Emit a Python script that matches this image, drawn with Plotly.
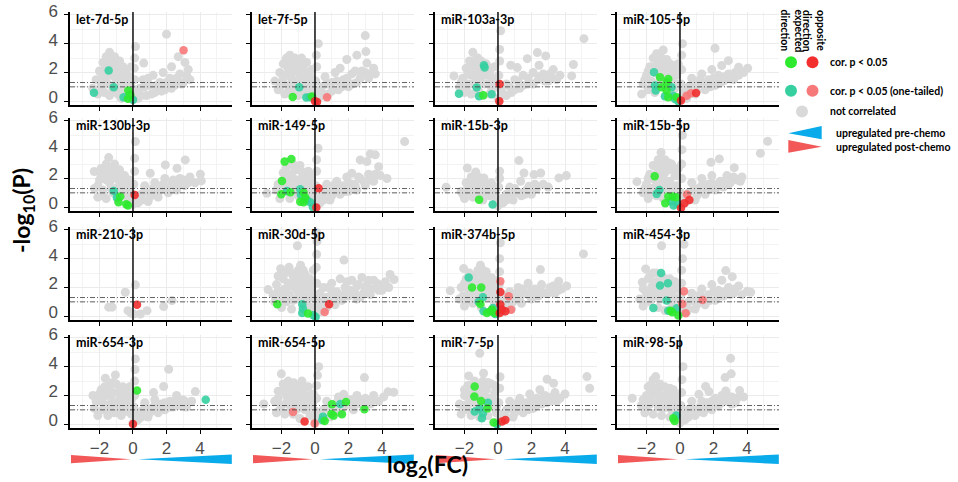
import plotly.graph_objects as go

W, H = 958, 482

PANELS = ["let-7d-5p", "let-7f-5p", "miR-103a-3p", "miR-105-5p",
          "miR-130b-3p", "miR-149-5p", "miR-15b-3p", "miR-15b-5p",
          "miR-210-3p", "miR-30d-5p", "miR-374b-5p", "miR-454-3p",
          "miR-654-3p", "miR-654-5p", "miR-7-5p", "miR-98-5p"]

X_TICKS = [-2, 0, 2, 4]
X_MINOR = [-3, -1, 1, 3, 5]
Y_TICKS = [0, 2, 4, 6]
Y_MINOR = [1, 3, 5]
P_05 = 1.30103   # -log10(0.05)
P_10 = 1.0       # -log10(0.1)

# ---------------- not correlated (grey) points, per panel -----------------
grey_let7d_5p = [(-2.4,0.9),(-2.2,1.5),(-2.1,0.5),(-2.0,2.1),(-1.9,1.1),(-1.8,2.7),(-1.7,1.7),(-1.7,0.6),(-1.6,3.1),(-1.5,2.3),(-1.5,1.2),(-1.4,3.4),(-1.3,2.8),(-1.3,1.8),(-1.2,0.8),(-1.1,3.1),(-1.0,2.3),(-1.0,1.4),(-0.9,0.5),(-0.8,2.8),(-0.8,1.9),(-0.7,1.1),(-0.7,0.2),(-0.6,2.4),(-0.5,1.6),(-0.4,0.5),(-0.4,2.1),(-0.3,1.1),(-0.2,1.7),(-0.2,0.2),(-0.1,2.4),(0.0,0.1),(0.05,0.8),(0.1,1.5),(0.08,2.3),(0.1,3.0),(0.15,3.8),(0.3,0.2),(0.4,0.9),(0.6,1.5),(0.64,2.65),(0.8,0.4),(1.0,1.1),(1.2,1.8),(1.3,0.6),(1.6,1.3),(1.8,2.0),(1.9,0.8),(2.2,1.6),(2.3,2.4),(2.5,1.1),(2.8,1.9),(3.0,1.3),(3.1,2.7),(3.4,1.5),(3.3,2.2),(2.0,4.66),(2.7,3.1),
    (-2.0,1.5),(-1.9,0.7),(-1.7,2.2),(-1.6,1.3),(-1.5,2.8),(-1.4,0.4),(-1.2,2.5),(-1.1,1.7),(-1.0,0.9),(-0.9,2.6),(-0.7,1.6),(-0.6,0.6),(-0.5,2.0),(-0.3,1.5),(-0.1,1.0),(0.2,0.5),(0.5,0.4),(0.7,1.0),(0.9,1.6),(1.1,0.5),(1.4,1.1),(1.7,0.7),(2.0,1.3),(2.3,0.9),(2.6,1.6),(2.9,1.2),(3.2,1.8)]
grey_let7f_5p = [(-2.4,1.4),(-2.2,0.8),(-2.1,2.0),(-2.0,1.3),(-1.9,2.6),(-1.8,0.5),(-1.8,1.8),(-1.7,3.0),(-1.6,2.3),(-1.6,1.1),(-1.5,3.2),(-1.4,2.7),(-1.4,1.6),(-1.3,0.7),(-1.2,3.0),(-1.2,2.1),(-1.1,1.3),(-1.0,2.6),(-1.0,0.4),(-0.9,1.8),(-0.8,3.0),(-0.8,1.0),(-0.7,2.3),(-0.6,1.5),(-0.5,0.6),(-0.5,2.7),(-0.4,1.9),(-0.3,1.2),(-0.2,2.2),(-0.1,0.7),(0.0,0.2),(0.05,1.4),(0.1,2.4),(0.08,3.2),(0.2,4.0),(0.3,0.3),(0.4,1.0),(0.6,1.7),(0.8,0.5),(1.0,1.3),(1.2,2.0),(1.4,0.8),(1.5,2.3),(1.7,1.5),(1.9,2.9),(2.0,1.0),(2.2,1.9),(2.5,3.2),(2.5,1.3),(2.8,2.1),(3.0,4.56),(3.04,3.45),(3.1,2.65),(3.2,1.6),(3.5,2.3),(3.6,1.9),
    (-2.1,1.0),(-1.9,1.6),(-1.7,2.5),(-1.6,0.7),(-1.5,1.9),(-1.3,2.4),(-1.2,1.0),(-1.1,2.8),(-0.9,0.7),(-0.9,2.2),(-0.7,1.3),(-0.6,2.7),(-0.4,0.8),(-0.3,1.7),(-0.1,1.4),(0.2,0.7),(0.5,0.5),(0.7,1.2),(1.0,0.7),(1.3,1.4),(1.6,1.0),(1.9,1.6),(2.2,1.2),(2.4,2.1),(2.7,1.6),(3.0,2.0),(3.3,1.9)]
grey_miR103a_3p = [(-2.63,1.76),(-2.3,1.0),(-2.1,1.6),(-2.0,0.6),(-1.9,2.3),(-1.8,1.2),(-1.7,2.8),(-1.6,1.8),(-1.6,0.5),(-1.5,3.4),(-1.4,2.5),(-1.3,1.4),(-1.2,3.0),(-1.2,0.8),(-1.1,2.1),(-1.0,2.8),(-1.0,1.4),(-0.9,0.4),(-0.8,1.9),(-0.7,2.6),(-0.6,1.2),(-0.5,2.0),(-0.4,0.7),(-0.3,1.6),(-0.2,2.4),(-0.1,1.0),(0.0,0.2),(0.05,1.8),(0.1,2.8),(0.1,3.6),(0.16,4.9),(0.3,0.5),(0.5,1.2),(0.76,2.5),(0.8,0.6),(1.0,1.5),(1.15,2.34),(1.3,0.9),(1.5,1.8),(1.75,2.96),(1.8,1.2),(2.1,2.0),(2.35,3.38),(2.4,1.5),(2.45,2.5),(2.7,1.9),(2.85,3.15),(3.0,1.4),(3.34,1.57),(3.3,2.2),(3.7,1.8),(4.4,1.76),(4.5,2.55),(5.13,4.35),
    (-2.2,1.3),(-1.9,0.9),(-1.8,1.9),(-1.6,2.5),(-1.5,1.2),(-1.4,2.0),(-1.3,2.9),(-1.1,0.6),(-1.1,1.7),(-0.9,2.4),(-0.8,1.2),(-0.6,1.8),(-0.5,0.5),(-0.4,2.3),(-0.2,1.3),(0.2,0.8),(0.5,0.4),(0.7,1.0),(1.0,0.8),(1.2,1.4),(1.5,1.1),(1.8,1.6),(2.1,1.2),(2.5,1.7),(2.8,1.4),(3.1,1.9),(3.5,1.5)]
grey_miR105_5p = [(-2.29,0.5),(-2.2,1.2),(-2.0,1.8),(-1.9,0.8),(-1.8,2.4),(-1.7,1.4),(-1.6,3.0),(-1.5,2.0),(-1.5,0.6),(-1.4,3.3),(-1.3,2.6),(-1.2,1.7),(-1.1,3.0),(-1.0,3.56),(-1.0,2.3),(-0.9,1.2),(-0.8,2.9),(-0.7,2.0),(-0.6,0.6),(-0.6,2.6),(-0.5,1.5),(-0.4,2.2),(-0.3,0.9),(-0.2,1.8),(-0.1,2.6),(0.0,0.2),(0.05,1.2),(0.1,2.2),(0.1,3.2),(0.15,4.0),(0.4,0.2),(0.5,1.0),(0.7,1.6),(0.9,0.5),(1.1,1.2),(1.3,1.9),(1.5,0.8),(1.7,1.5),(1.9,2.2),(2.09,3.68),(2.1,1.1),(2.3,1.8),(2.49,2.48),(2.6,1.4),(2.89,2.82),(2.9,1.9),(3.2,1.5),(3.5,2.36),(3.5,1.8),(3.8,2.0),(4.04,2.3),
    (-2.1,1.5),(-1.9,2.1),(-1.7,1.0),(-1.6,2.4),(-1.4,1.2),(-1.3,2.1),(-1.2,3.3),(-1.1,1.4),(-1.0,2.8),(-0.9,1.7),(-0.8,2.4),(-0.7,1.2),(-0.5,2.0),(-0.4,1.0),(-0.3,2.5),(-0.2,1.2),(0.2,0.6),(0.5,0.5),(0.8,1.1),(1.0,0.7),(1.2,1.5),(1.5,1.2),(1.8,1.0),(2.0,1.6),(2.4,1.3),(2.7,1.7),(3.0,1.6),(3.3,2.0)]
grey_miR130b_3p = [(-2.31,2.48),(-2.3,1.3),(-2.1,0.7),(-2.0,1.9),(-1.9,2.7),(-1.8,1.2),(-1.7,2.2),(-1.6,3.0),(-1.6,0.6),(-1.45,3.45),(-1.4,1.7),(-1.3,2.6),(-1.2,1.0),(-1.1,3.0),(-1.0,2.0),(-0.9,0.5),(-0.9,1.4),(-0.8,2.6),(-0.7,1.8),(-0.6,0.9),(-0.5,2.2),(-0.4,1.4),(-0.3,0.5),(-0.2,1.9),(-0.1,1.0),(0.0,0.2),(0.05,1.6),(0.1,2.5),(0.1,3.4),(0.14,4.56),(0.3,0.3),(0.5,0.9),(0.7,1.5),(0.9,0.4),(1.03,2.36),(1.1,1.0),(1.3,1.7),(1.5,0.7),(1.7,1.3),(1.93,2.94),(1.9,2.0),(2.1,1.0),(2.3,1.6),(2.63,2.71),(2.6,1.2),(2.8,2.0),(3.12,3.29),(3.1,1.5),(3.4,2.1),(3.7,1.7),(4.02,2.29),(4.08,1.83),
    (-2.1,1.5),(-1.9,2.2),(-1.8,0.8),(-1.6,1.9),(-1.5,2.6),(-1.3,1.3),(-1.2,2.2),(-1.0,1.3),(-1.0,2.6),(-0.8,0.9),(-0.7,2.2),(-0.6,1.4),(-0.4,1.9),(-0.3,1.0),(-0.1,1.5),(0.2,0.7),(0.5,0.5),(0.7,1.1),(1.0,0.7),(1.2,1.3),(1.5,1.0),(1.8,1.6),(2.0,1.3),(2.4,1.9),(2.7,1.5),(3.0,1.9),(3.3,1.7)]
grey_miR149_5p = [(-2.87,0.97),(-2.3,1.2),(-2.1,0.6),(-2.0,1.8),(-1.9,2.4),(-1.8,1.1),(-1.7,2.8),(-1.6,1.7),(-1.5,0.6),(-1.4,2.3),(-1.31,3.0),(-1.2,1.4),(-1.1,2.6),(-1.0,0.8),(-1.0,1.9),(-0.9,2.9),(-0.8,1.4),(-0.7,2.3),(-0.6,0.9),(-0.5,1.7),(-0.4,2.5),(-0.3,1.2),(-0.2,2.0),(-0.1,0.8),(0.0,0.2),(0.05,1.5),(0.1,2.5),(0.1,3.3),(0.18,4.1),(0.3,0.3),(0.5,1.0),(0.7,1.6),(0.9,0.5),(1.1,1.2),(1.3,1.8),(1.5,0.9),(1.7,1.5),(1.9,2.1),(2.0,1.1),(2.2,2.36),(2.3,1.6),(2.5,1.2),(2.7,3.29),(2.7,2.0),(3.0,1.5),(3.1,3.17),(3.2,2.3),(3.3,3.7),(3.5,1.8),(3.6,3.64),(3.8,2.82),(3.9,2.2),(4.3,2.0),(5.35,4.56),
    (-2.2,1.6),(-1.9,1.5),(-1.8,2.0),(-1.6,2.3),(-1.5,1.3),(-1.3,2.0),(-1.2,2.7),(-1.1,1.0),(-0.9,1.6),(-0.8,2.5),(-0.7,1.1),(-0.6,2.0),(-0.4,1.5),(-0.3,2.2),(-0.2,0.9),(0.2,0.7),(0.5,0.5),(0.8,1.0),(1.0,0.8),(1.2,1.6),(1.5,1.3),(1.8,1.1),(2.0,1.7),(2.4,1.5),(2.6,2.1),(2.9,1.8),(3.3,1.9),(3.6,2.3)]
grey_miR15b_3p = [(-3.1,1.39),(-2.2,1.1),(-2.0,0.6),(-1.9,1.7),(-1.83,2.73),(-1.7,1.2),(-1.6,2.1),(-1.5,0.7),(-1.4,1.6),(-1.33,2.45),(-1.23,2.15),(-1.2,1.0),(-1.0,1.8),(-0.9,0.5),(-0.84,2.04),(-0.7,1.3),(-0.5,0.8),(-0.4,1.7),(-0.2,1.1),(-0.1,0.4),(0.0,0.1),(0.05,1.4),(0.1,2.0),(0.1,2.5),(0.3,0.3),(0.5,0.9),(0.7,1.4),(0.9,0.5),(1.1,1.0),(1.25,3.24),(1.35,1.81),(1.4,0.8),(1.55,2.38),(1.7,1.2),(1.85,1.46),(2.0,0.9),(2.15,2.27),(2.3,1.3),(2.55,2.38),(2.7,1.6),(3.0,1.4),(3.64,2.04),(4.08,2.2),
    (-2.1,0.9),(-1.8,1.4),(-1.6,1.0),(-1.5,1.9),(-1.3,1.3),(-1.1,1.5),(-1.0,0.8),(-0.8,1.1),(-0.6,1.6),(-0.5,1.2),(-0.3,0.9),(-0.3,1.5),(0.2,0.6),(0.5,0.5),(0.8,0.8),(1.0,1.3),(1.3,1.0),(1.6,0.9),(1.9,1.1),(2.2,1.6)]
grey_miR15b_5p = [(-2.57,1.78),(-2.2,1.0),(-2.0,1.6),(-1.9,0.6),(-1.8,2.3),(-1.7,1.3),(-1.6,2.9),(-1.5,1.9),(-1.4,0.8),(-1.3,3.3),(-1.3,2.4),(-1.2,1.5),(-1.13,3.8),(-1.1,2.9),(-1.0,0.6),(-1.0,2.0),(-0.9,3.3),(-0.8,1.3),(-0.7,2.6),(-0.6,1.8),(-0.5,3.0),(-0.4,1.1),(-0.3,2.2),(-0.2,1.5),(-0.1,2.7),(0.0,0.2),(0.05,1.0),(0.1,2.0),(0.1,3.0),(0.12,4.0),(0.15,5.0),(0.3,0.3),(0.5,1.0),(0.7,1.7),(0.9,0.5),(1.1,1.3),(1.3,2.0),(1.5,0.9),(1.7,1.6),(1.85,3.12),(1.9,2.2),(2.1,1.2),(2.35,3.36),(2.4,1.8),(2.6,1.4),(2.8,2.2),(3.0,1.7),(3.24,2.75),(3.4,1.9),(3.7,2.1),(4.8,3.75),(5.23,4.58),
    (-2.1,1.3),(-1.9,2.0),(-1.7,1.0),(-1.6,2.2),(-1.4,1.5),(-1.4,2.8),(-1.2,2.0),(-1.1,1.0),(-0.9,2.4),(-0.8,1.8),(-0.7,3.1),(-0.6,1.2),(-0.4,2.6),(-0.3,1.4),(-0.2,2.2),(0.2,0.7),(0.5,0.5),(0.8,1.2),(1.0,0.8),(1.3,1.5),(1.6,1.2),(1.9,1.7),(2.2,1.5),(2.6,1.8),(2.9,1.6),(3.2,2.1),(3.6,1.8)]
grey_miR210_3p = [(-1.45,0.63),(-1.25,0.63),(-0.46,1.67),(-0.3,0.39),(-0.12,0.23),(0.04,0.16),(0.14,2.18),(0.44,0.16),(0.84,0.39),(1.83,0.67),(2.33,1.09)]
grey_miR30d_5p = [(-2.8,1.85),(-2.4,1.0),(-2.3,2.2),(-2.1,1.5),(-2.05,3.3),(-2.0,0.6),(-1.9,2.6),(-1.8,1.9),(-1.7,1.0),(-1.55,3.4),(-1.6,2.3),(-1.5,1.5),(-1.4,0.5),(-1.3,2.8),(-1.2,2.0),(-1.1,1.2),(-1.05,4.9),(-1.0,3.2),(-0.86,3.54),(-0.9,2.4),(-0.8,1.6),(-0.7,0.9),(-0.6,2.9),(-0.5,2.0),(-0.4,1.2),(-0.3,2.6),(-0.2,0.6),(-0.2,1.8),(-0.1,3.2),(0.0,0.2),(0.05,1.2),(0.1,2.3),(0.08,3.4),(0.1,4.3),(0.12,5.2),(0.1,5.8),(0.3,0.3),(0.4,1.1),(0.5,2.0),(0.7,0.6),(0.9,1.4),(1.0,2.3),(1.2,0.8),(1.3,1.7),(1.5,2.6),(1.6,1.1),(1.73,3.9),(1.8,2.0),(2.0,1.4),(2.2,2.5),(2.3,1.7),(2.5,1.2),(2.6,2.2),(2.8,2.7),(2.9,1.6),(3.1,2.2),(3.3,1.5),(3.5,2.5),(3.72,2.27),(3.8,1.8),(4.1,2.2),(4.48,2.9),(4.72,2.55),(4.4,2.0),
    (-2.5,1.5),(-2.2,1.8),(-2.2,2.8),(-1.9,1.2),(-1.8,3.0),(-1.7,1.5),(-1.5,2.1),(-1.4,3.0),(-1.3,1.1),(-1.2,2.5),(-1.0,1.7),(-1.0,2.7),(-0.8,2.1),(-0.7,3.2),(-0.6,1.3),(-0.5,2.4),(-0.4,0.7),(-0.3,1.5),(-0.2,2.3),(0.2,0.8),(0.3,1.6),(0.6,0.5),(0.7,1.3),(0.8,2.0),(1.0,0.9),(1.1,1.7),(1.4,1.3),(1.7,1.5),(1.9,2.4),(2.1,1.8),(2.4,1.6),(2.5,2.1),(2.7,1.3),(3.0,1.9),(3.2,2.5),(3.4,1.9),(3.7,2.0),(4.0,1.8),(4.2,2.4)]
grey_miR374b_5p = [(-2.85,1.78),(-2.3,1.2),(-2.2,2.0),(-2.05,3.31),(-2.0,0.7),(-1.9,2.6),(-1.8,1.5),(-1.7,3.0),(-1.6,2.2),(-1.5,0.9),(-1.4,2.8),(-1.3,1.6),(-1.2,3.2),(-1.1,2.3),(-1.05,3.54),(-1.0,0.6),(-0.9,2.8),(-0.8,1.8),(-0.7,3.1),(-0.6,2.3),(-0.5,1.3),(-0.4,2.7),(-0.3,1.9),(-0.2,0.9),(-0.1,2.5),(0.0,0.2),(0.05,1.3),(0.08,2.2),(0.1,3.1),(0.1,4.0),(0.14,5.1),(0.3,0.3),(0.5,1.0),(0.7,1.7),(0.8,0.5),(1.0,1.2),(1.2,2.0),(1.4,0.9),(1.6,1.6),(1.8,2.3),(2.0,1.2),(2.2,1.9),(2.4,1.4),(2.53,3.24),(2.6,2.2),(2.8,1.6),(3.1,2.0),(3.4,1.6),(3.62,2.43),(3.8,1.9),(4.1,2.1),(5.1,4.33),
    (-2.1,1.4),(-2.0,2.3),(-1.8,1.1),(-1.8,2.0),(-1.6,2.6),(-1.5,1.8),(-1.4,1.2),(-1.3,2.4),(-1.1,1.8),(-1.1,1.0),(-0.9,2.2),(-0.9,3.2),(-0.7,1.4),(-0.6,2.7),(-0.5,1.8),(-0.3,2.3),(-0.3,1.3),(-0.1,1.7),(0.2,0.7),(0.3,1.5),(0.5,0.6),(0.7,1.2),(0.9,1.0),(1.1,1.6),(1.3,1.3),(1.5,1.9),(1.8,1.5),(2.0,1.8),(2.3,1.6),(2.6,1.7),(3.0,1.6),(3.3,2.1),(3.6,1.8)]
grey_miR454_3p = [(-2.25,2.36),(-2.4,1.2),(-2.2,0.7),(-2.05,3.29),(-2.0,1.6),(-1.9,2.6),(-1.8,1.0),(-1.7,2.0),(-1.6,3.0),(-1.5,1.4),(-1.4,2.4),(-1.3,0.6),(-1.2,1.8),(-1.1,4.9),(-1.0,2.7),(-1.0,1.2),(-0.9,0.4),(-0.8,2.0),(-0.7,1.5),(-0.6,2.6),(-0.5,0.9),(-0.4,1.8),(-0.3,2.4),(-0.2,1.2),(-0.1,0.6),(0.0,0.2),(0.05,1.4),(0.1,2.3),(0.1,3.2),(0.15,4.0),(0.24,5.0),(0.4,0.3),(0.5,1.0),(0.7,1.6),(0.9,0.5),(1.1,1.2),(1.3,1.9),(1.5,0.8),(1.7,1.5),(1.9,2.2),(2.1,1.1),(2.3,1.8),(2.5,2.5),(2.6,1.4),(2.73,3.17),(2.9,2.0),(3.12,2.75),(3.2,1.6),(3.5,2.1),(3.7,1.5),(4.02,1.74),(4.22,1.67),
    (-2.2,1.9),(-2.0,1.1),(-1.8,1.6),(-1.8,2.8),(-1.6,2.2),(-1.4,1.8),(-1.4,3.0),(-1.2,1.2),(-1.2,2.4),(-1.0,2.0),(-0.9,1.5),(-0.8,2.5),(-0.6,1.1),(-0.6,2.0),(-0.4,1.3),(-0.2,1.9),(0.2,0.7),(0.5,0.5),(0.7,1.1),(1.0,0.8),(1.2,1.5),(1.5,1.2),(1.8,1.1),(2.0,1.7),(2.4,1.4),(2.7,1.7),(3.0,1.5),(3.3,1.9)]
grey_miR654_3p = [(-2.39,2.0),(-2.3,1.1),(-2.1,0.6),(-2.0,1.6),(-1.9,2.4),(-1.8,1.0),(-1.65,3.2),(-1.6,2.0),(-1.5,0.6),(-1.4,2.7),(-1.3,1.5),(-1.2,2.2),(-1.05,3.43),(-1.1,0.8),(-1.0,2.8),(-0.9,1.6),(-0.8,2.3),(-0.7,0.6),(-0.6,1.3),(-0.5,2.1),(-0.4,0.9),(-0.3,1.7),(-0.2,2.6),(-0.1,0.7),(0.0,0.1),(0.05,1.2),(0.1,2.0),(0.1,3.0),(0.12,3.8),(0.14,4.54),(0.3,0.3),(0.5,0.9),(0.7,1.5),(0.9,0.5),(1.1,1.1),(1.23,2.2),(1.3,1.7),(1.5,0.8),(1.7,1.4),(1.83,2.62),(1.9,1.0),(2.13,3.82),(2.2,1.6),(2.4,1.2),(2.6,2.0),(2.8,1.4),(2.98,1.69),(3.2,1.2),(3.5,1.6),(3.72,2.27),
    (-2.2,1.6),(-2.0,2.1),(-1.8,1.5),(-1.7,2.6),(-1.5,2.2),(-1.4,1.1),(-1.3,2.0),(-1.2,2.9),(-1.1,1.4),(-0.9,2.2),(-0.8,1.0),(-0.7,1.8),(-0.6,2.6),(-0.4,1.4),(-0.3,2.2),(-0.1,1.7),(0.2,0.7),(0.5,0.5),(0.7,1.1),(1.0,0.8),(1.3,1.3),(1.6,1.1),(1.9,1.5),(2.2,1.2),(2.5,1.6),(2.8,1.3),(3.1,1.6)]
grey_miR654_5p = [(-3.06,1.41),(-2.4,1.6),(-2.3,0.8),(-2.2,2.3),(-2.01,3.5),(-2.0,1.3),(-1.9,2.8),(-1.8,0.7),(-1.7,2.0),(-1.6,3.0),(-1.5,1.3),(-1.4,2.4),(-1.27,2.89),(-1.3,0.7),(-1.2,1.8),(-1.0,2.5),(-1.0,1.1),(-0.9,0.4),(-0.78,3.0),(-0.8,1.7),(-0.7,2.3),(-0.6,1.0),(-0.5,1.8),(-0.4,2.6),(-0.3,0.6),(-0.2,1.4),(-0.1,2.1),(0.0,0.2),(0.05,0.9),(0.1,1.8),(0.1,2.7),(0.15,3.4),(0.22,4.0),(0.3,0.3),(0.5,1.0),(0.7,1.6),(0.9,0.5),(1.2,1.2),(1.4,1.9),(1.5,0.8),(1.71,2.08),(1.8,1.3),(2.1,1.7),(2.3,1.0),(2.5,2.0),(2.7,1.4),(2.95,3.24),(3.0,1.8),(3.3,1.4),(3.5,2.0),(3.8,1.6),(4.1,1.9),(4.36,2.25),(4.7,2.22),
    (-2.2,1.8),(-2.1,1.0),(-1.9,2.3),(-1.7,1.5),(-1.6,2.5),(-1.5,1.8),(-1.4,1.0),(-1.3,2.1),(-1.1,1.5),(-1.1,2.7),(-0.9,2.0),(-0.8,1.3),(-0.6,2.6),(-0.6,1.5),(-0.4,1.2),(-0.3,2.0),(-0.1,1.6),(0.2,0.7),(0.5,0.5),(0.8,1.1),(1.0,0.8),(1.3,1.5),(1.6,1.1),(1.9,1.7),(2.2,1.3),(2.5,1.6),(2.8,1.7),(3.1,1.5),(3.4,1.7)]
grey_miR7_5p = [(-2.3,1.4),(-2.2,0.7),(-2.0,2.0),(-1.9,1.1),(-1.8,2.7),(-1.75,3.36),(-1.7,1.6),(-1.6,0.6),(-1.5,2.3),(-1.4,3.0),(-1.3,1.4),(-1.2,2.6),(-1.09,4.93),(-1.1,0.5),(-1.0,2.0),(-0.9,3.0),(-0.86,3.54),(-0.8,1.2),(-0.7,2.4),(-0.6,0.6),(-0.5,1.8),(-0.4,2.8),(-0.3,1.2),(-0.2,2.2),(-0.1,0.8),(0.0,0.2),(0.05,1.5),(0.1,2.5),(0.12,3.3),(0.3,0.3),(0.5,1.0),(0.7,1.6),(0.9,0.5),(1.1,1.2),(1.3,1.8),(1.5,0.8),(1.7,1.5),(1.9,2.1),(2.1,1.1),(2.3,1.8),(2.5,2.4),(2.6,1.4),(2.8,2.0),(2.93,3.13),(3.1,1.6),(3.32,2.85),(3.4,2.2),(3.7,1.8),(4.0,2.1),(5.31,3.31),(5.47,2.5),
    (-2.1,1.3),(-2.0,2.4),(-1.8,1.0),(-1.7,2.2),(-1.6,1.5),(-1.5,2.8),(-1.3,2.0),(-1.2,1.0),(-1.1,2.3),(-1.0,1.5),(-0.9,2.5),(-0.7,1.8),(-0.6,2.9),(-0.5,1.2),(-0.3,1.7),(-0.2,2.7),(-0.1,1.2),(0.2,0.7),(0.5,0.5),(0.8,1.1),(1.0,0.8),(1.2,1.5),(1.5,1.2),(1.8,1.0),(2.0,1.6),(2.3,1.3),(2.6,1.8),(2.9,1.5),(3.2,1.9),(3.5,1.6)]
grey_miR98_5p = [(-2.85,1.81),(-2.3,1.3),(-2.1,0.8),(-2.0,2.0),(-1.9,2.6),(-1.75,2.73),(-1.8,1.4),(-1.6,3.1),(-1.6,0.7),(-1.45,3.31),(-1.4,2.1),(-1.3,1.2),(-1.2,2.8),(-1.1,0.6),(-1.0,1.8),(-0.9,2.6),(-0.8,1.2),(-0.7,2.1),(-0.6,0.5),(-0.5,1.5),(-0.4,2.4),(-0.3,1.0),(-0.2,1.8),(-0.1,0.4),(0.0,0.1),(0.05,1.3),(0.1,2.2),(0.12,3.1),(0.18,4.0),(0.3,0.3),(0.5,1.0),(0.7,1.6),(0.9,0.6),(1.13,2.08),(1.2,1.2),(1.4,0.8),(1.53,2.62),(1.6,1.5),(1.73,2.27),(1.9,1.0),(2.1,1.8),(2.3,1.3),(2.5,2.0),(2.69,3.24),(2.73,2.31),(2.8,1.6),(3.02,4.58),(3.06,3.5),(3.1,1.9),(3.3,1.5),(3.56,2.34),(3.8,1.9),
    (-2.2,1.7),(-2.0,1.2),(-1.8,2.1),(-1.7,1.6),(-1.5,2.5),(-1.4,1.5),(-1.3,2.3),(-1.2,1.6),(-1.1,2.6),(-1.0,1.1),(-0.9,2.0),(-0.7,1.6),(-0.6,2.5),(-0.5,1.0),(-0.3,2.0),(-0.2,1.3),(0.2,0.7),(0.5,0.5),(0.8,1.1),(1.0,0.8),(1.3,1.6),(1.6,1.1),(1.9,1.6),(2.2,1.4),(2.5,1.5),(2.8,2.0),(3.1,1.4),(3.4,1.8)]

GREY_BY_PANEL = [grey_let7d_5p, grey_let7f_5p, grey_miR103a_3p, grey_miR105_5p,
                 grey_miR130b_3p, grey_miR149_5p, grey_miR15b_3p, grey_miR15b_5p,
                 grey_miR210_3p, grey_miR30d_5p, grey_miR374b_5p, grey_miR454_3p,
                 grey_miR654_3p, grey_miR654_5p, grey_miR7_5p, grey_miR98_5p]

# ------------- correlated points: (panel, log2FC, -log10 p) ---------------
# expected direction, cor. p < 0.05
green_pts = [
    ("let-7d-5p",-0.28,0.75),("let-7d-5p",-0.16,0.45),("let-7d-5p",-0.3,0.17),
    ("let-7f-5p",-1.33,0.30),("let-7f-5p",-0.18,0.33),
    ("miR-103a-3p",-0.88,0.42),
    ("miR-105-5p",-1.19,1.67),("miR-105-5p",-0.7,1.55),("miR-105-5p",-0.8,1.32),("miR-105-5p",-1.09,0.97),
    ("miR-105-5p",-0.8,0.74),("miR-105-5p",-0.7,0.28),("miR-105-5p",-0.2,0.28),
    ("miR-130b-3p",-0.76,0.74),("miR-130b-3p",-0.86,0.35),("miR-130b-3p",-0.4,0.21),("miR-130b-3p",-0.3,0.12),
    ("miR-149-5p",-1.41,3.36),("miR-149-5p",-1.81,3.17),("miR-149-5p",-1.97,1.83),("miR-149-5p",-2.01,0.9),
    ("miR-149-5p",-1.47,1.04),("miR-149-5p",-0.68,1.02),("miR-149-5p",-0.58,0.67),("miR-149-5p",-0.88,0.39),
    ("miR-149-5p",-0.68,0.35),
    ("miR-15b-3p",-1.13,0.53),
    ("miR-15b-5p",-1.51,2.15),("miR-15b-5p",-0.7,0.74),("miR-15b-5p",-0.44,0.74),("miR-15b-5p",-0.24,0.69),
    ("miR-15b-5p",-0.88,0.28),
    ("miR-30d-5p",-2.25,0.83),("miR-30d-5p",-0.42,0.19),
    ("miR-374b-5p",-1.55,2.0),("miR-374b-5p",-1.0,2.0),("miR-374b-5p",-1.05,0.86),("miR-374b-5p",-0.66,0.23),
    ("miR-374b-5p",-0.46,0.35),("miR-374b-5p",-0.22,0.23),("miR-374b-5p",-0.36,0.46),
    ("miR-454-3p",-0.46,0.28),("miR-454-3p",-0.56,0.39),("miR-454-3p",-0.1,0.05),
    ("miR-654-3p",0.24,2.34),
    ("miR-654-5p",1.01,1.39),("miR-654-5p",1.85,1.55),("miR-654-5p",2.95,1.04),("miR-654-5p",0.58,0.23),
    ("miR-654-5p",0.98,0.72),("miR-654-5p",1.11,0.6),("miR-654-5p",1.61,0.69),
    ("miR-7-5p",-1.39,2.62),("miR-7-5p",-1.41,1.92),("miR-7-5p",-1.01,1.62),("miR-7-5p",-0.62,1.11),
    ("miR-7-5p",-0.26,0.12),
    ("miR-98-5p",-0.4,0.42),("miR-98-5p",-0.32,0.23),
]
# expected direction, cor. p < 0.05 (one-tailed)
teal_pts = [
    ("let-7d-5p",-1.45,2.14),("let-7d-5p",-1.15,0.98),("let-7d-5p",-2.33,0.59),("let-7d-5p",-0.56,0.27),
    ("let-7d-5p",0.0,0.1),
    ("let-7f-5p",-0.94,0.97),("let-7f-5p",-0.52,0.26),("let-7f-5p",-0.3,0.28),
    ("miR-103a-3p",-0.84,2.5),("miR-103a-3p",-0.8,2.34),("miR-103a-3p",-1.27,0.95),("miR-103a-3p",-2.33,0.53),
    ("miR-103a-3p",-1.13,0.35),("miR-103a-3p",-0.38,0.49),
    ("miR-105-5p",-1.55,2.01),("miR-105-5p",-1.49,1.09),("miR-105-5p",-1.45,0.74),("miR-105-5p",-0.5,0.97),
    ("miR-105-5p",-0.9,0.35),("miR-105-5p",-0.4,0.39),("miR-105-5p",-0.3,0.16),("miR-105-5p",-0.1,0.0),
    ("miR-130b-3p",-1.15,1.13),("miR-130b-3p",-0.96,0.67),
    ("miR-149-5p",-1.67,1.13),("miR-149-5p",-0.88,1.25),("miR-149-5p",-0.84,0.86),("miR-149-5p",-0.48,0.51),
    ("miR-149-5p",-0.28,0.35),("miR-149-5p",-0.12,0.0),
    ("miR-15b-3p",-0.32,0.19),
    ("miR-15b-5p",-1.23,1.2),("miR-15b-5p",-1.39,0.93),("miR-15b-5p",-0.54,0.42),("miR-15b-5p",-0.38,0.12),
    ("miR-15b-5p",-0.14,0.23),
    ("miR-30d-5p",-0.76,0.83),("miR-30d-5p",-0.72,0.53),("miR-30d-5p",-0.76,0.23),("miR-30d-5p",-0.1,0.07),
    ("miR-30d-5p",0.04,-0.05),
    ("miR-374b-5p",-1.75,2.7),("miR-374b-5p",-0.9,1.32),("miR-374b-5p",-1.15,1.0),("miR-374b-5p",-0.86,0.35),
    ("miR-374b-5p",-0.3,0.58),("miR-374b-5p",-0.16,0.16),
    ("miR-454-3p",-1.13,3.0),("miR-454-3p",-1.19,2.13),("miR-454-3p",-0.72,2.29),("miR-454-3p",-0.8,1.09),
    ("miR-454-3p",-1.59,0.58),("miR-454-3p",-0.7,0.39),("miR-454-3p",-0.2,0.56),
    ("miR-654-3p",4.34,1.71),
    ("miR-654-5p",1.51,1.41),("miR-654-5p",0.48,0.53),("miR-654-5p",0.44,0.3),
    ("miR-7-5p",-0.6,1.5),("miR-7-5p",-1.09,1.11),("miR-7-5p",-1.39,0.88),("miR-7-5p",-0.9,0.76),
    ("miR-7-5p",-0.96,0.42),("miR-7-5p",-0.06,0.0),
    ("miR-98-5p",-0.22,0.6),
]
# opposite direction, cor. p < 0.05
red_pts = [
    ("let-7f-5p",0.0,0.0),("let-7f-5p",0.12,-0.05),
    ("miR-103a-3p",0.1,1.2),("miR-103a-3p",0.08,0.0),
    ("miR-105-5p",0.06,0.05),("miR-105-5p",0.96,0.58),
    ("miR-130b-3p",0.1,0.86),
    ("miR-149-5p",0.22,1.32),("miR-149-5p",0.08,-0.02),
    ("miR-15b-5p",0.06,-0.05),("miR-15b-5p",0.26,0.28),("miR-15b-5p",0.56,0.51),
    ("miR-210-3p",0.24,0.8),
    ("miR-30d-5p",0.84,0.83),
    ("miR-374b-5p",0.14,1.69),("miR-374b-5p",0.14,0.81),("miR-374b-5p",0.24,0.46),("miR-374b-5p",0.44,0.35),
    ("miR-374b-5p",0.1,0.23),
    ("miR-654-3p",0.0,0.02),
    ("miR-654-5p",-0.62,0.19),
    ("miR-7-5p",0.24,0.19),("miR-7-5p",0.44,0.3),
]
# opposite direction, cor. p < 0.05 (one-tailed)
lightred_pts = [
    ("let-7d-5p",3.02,3.55),
    ("let-7f-5p",0.72,0.28),
    ("miR-105-5p",0.4,0.39),("miR-105-5p",0.66,0.56),
    ("miR-15b-5p",0.42,0.88),
    ("miR-30d-5p",0.58,0.3),
    ("miR-374b-5p",0.14,2.43),("miR-374b-5p",0.64,1.39),("miR-374b-5p",0.78,0.46),
    ("miR-454-3p",0.24,1.74),("miR-454-3p",0.14,0.86),("miR-454-3p",0.34,0.21),("miR-454-3p",1.35,1.13),
    ("miR-654-5p",-1.31,0.86),("miR-654-5p",-0.02,0.05),
]

LEGEND_ROWS = ["cor. p < 0.05", "cor. p < 0.05 (one-tailed)", "not correlated"]
LEGEND_DIRS = ["expected<br>direction", "opposite<br>direction"]
WEDGE_LABELS = ["upregulated pre-chemo", "upregulated post-chemo"]

# ---------------------------- styling ------------------------------------
C_GREY = "#D9D9D9"
C_GREEN = "#2EEA2E"
C_TEAL = "#35CFA0"
C_RED = "#F22E2E"
C_LRED = "#F77878"
C_BLUE_W = "#0AABEA"
C_RED_W = "#F25858"
LABEL_FONT = "Lato, Open Sans, sans-serif"
TICK_FONT = "Liberation Sans, Arial, sans-serif"

COL_L = [70, 252, 435, 617]
PW = 162
ROW_T = [12, 118, 227, 335]
PH = 93
XR = [-3.76, 5.91]
YR = [-0.26, 6.2]

fig = go.Figure()
layout = dict(width=W, height=H, margin=dict(l=0, r=0, t=0, b=0), autosize=False,
              paper_bgcolor="white", plot_bgcolor="rgba(0,0,0,0)", showlegend=False)
shapes = []
annotations = []

OV = 17  # overlay axis in pixel units
OX, OY = "x%d" % OV, "y%d" % OV

def axn(n):
    return "" if n == 1 else str(n)

for i, name in enumerate(PANELS):
    r, c = divmod(i, 4)
    n = i + 1
    xa, ya = "x" + axn(n), "y" + axn(n)
    L, T = COL_L[c], ROW_T[r]
    layout["xaxis" + axn(n)] = dict(
        domain=[L / W, (L + PW) / W], range=XR, anchor=ya,
        tickvals=X_TICKS, showticklabels=(r == 3), ticks="outside", ticklen=4,
        tickwidth=1.2, tickcolor="black", showline=True, linecolor="black", linewidth=1.5,
        showgrid=True, gridcolor="#EBEBEB", gridwidth=1.3, zeroline=False,
        minor=dict(tickvals=X_MINOR, showgrid=True, gridcolor="#F3F3F3", gridwidth=0.7, ticks=""),
        tickfont=dict(family=TICK_FONT, size=17, color="#4D4D4D"),
        fixedrange=True, automargin=False)
    layout["yaxis" + axn(n)] = dict(
        domain=[1 - (T + PH) / H, 1 - T / H], range=YR, anchor=xa,
        tickvals=Y_TICKS, showticklabels=(c == 0), ticks="outside", ticklen=4,
        tickwidth=1.2, tickcolor="black", showline=True, linecolor="black", linewidth=1.5,
        showgrid=True, gridcolor="#EBEBEB", gridwidth=1.3, zeroline=False,
        minor=dict(tickvals=Y_MINOR, showgrid=True, gridcolor="#F3F3F3", gridwidth=0.7, ticks=""),
        tickfont=dict(family=TICK_FONT, size=17, color="#4D4D4D"),
        ticklabelshift=-4, ticklabelstandoff=3,
        fixedrange=True, automargin=False)

    g = GREY_BY_PANEL[i]
    fig.add_trace(go.Scatter(x=[p[0] for p in g], y=[p[1] for p in g], mode="markers",
                             xaxis=xa, yaxis=ya, hoverinfo="skip",
                             marker=dict(size=9, color=C_GREY, line=dict(width=0))))
    for pts, col in ((teal_pts, C_TEAL), (lightred_pts, C_LRED), (green_pts, C_GREEN), (red_pts, C_RED)):
        sel = [p for p in pts if p[0] == name]
        if sel:
            fig.add_trace(go.Scatter(x=[p[1] for p in sel], y=[p[2] for p in sel], mode="markers",
                                     xaxis=xa, yaxis=ya, hoverinfo="skip",
                                     marker=dict(size=8.5, color=col, opacity=0.9, line=dict(width=0))))

    # significance thresholds
    for yv in (P_05, P_10):
        shapes.append(dict(type="line", xref=xa + " domain", yref=ya, x0=0, x1=1, y0=yv, y1=yv,
                           line=dict(color="#3A3A3A", width=0.8, dash="5px,2px,1px,2px")))
    # x = 0 line
    shapes.append(dict(type="line", xref=xa, yref=ya + " domain", x0=0, x1=0, y0=0, y1=1,
                       line=dict(color="black", width=1.4)))
    # panel label
    annotations.append(dict(xref=OX, yref=OY, x=L + 4, y=T + 7,
                            text="<b>%s</b>" % name, showarrow=False, xanchor="left", yanchor="middle",
                            font=dict(family=LABEL_FONT, size=12.5, color="black")))
    # direction wedges under bottom row
    if r == 3:
        shapes.append(dict(type="path", xref=xa, yref=OY,
                           path="M -3.7,455 L -3.7,463.3 L -0.13,459.3 Z",
                           fillcolor=C_RED_W, line=dict(width=0)))
        shapes.append(dict(type="path", xref=xa, yref=OY,
                           path="M 0.3,459.3 L 5.9,454.5 L 5.9,464 Z",
                           fillcolor=C_BLUE_W, line=dict(width=0)))

# overlay pixel axis
layout["xaxis%d" % OV] = dict(domain=[0, 1], range=[0, W], visible=False, fixedrange=True, anchor=OY)
layout["yaxis%d" % OV] = dict(domain=[0, 1], range=[H, 0], visible=False, fixedrange=True, anchor=OX)

# legend markers
leg_x = [791, 812.5, 791, 812.5, 802]
leg_y = [62.3, 62.3, 90.7, 90.7, 111.5]
leg_c = [C_GREEN, C_RED, C_TEAL, C_LRED, C_GREY]
fig.add_trace(go.Scatter(x=leg_x, y=leg_y, mode="markers", xaxis=OX, yaxis=OY,
                         hoverinfo="skip", marker=dict(size=12, color=leg_c, line=dict(width=0))))
for txt, yy in zip(LEGEND_ROWS, [62.3, 90.7, 111]):
    annotations.append(dict(xref=OX, yref=OY, x=828, y=yy, text="<b>%s</b>" % txt,
                            showarrow=False, xanchor="left", yanchor="middle",
                            font=dict(family=LABEL_FONT, size=10.5, color="black")))
for txt, xx in zip(LEGEND_DIRS, [791.5, 814]):
    annotations.append(dict(xref=OX, yref=OY, x=xx, y=31, text="<b>%s</b>" % txt,
                            showarrow=False, xanchor="center", yanchor="middle", textangle=90, align="left",
                            font=dict(family=LABEL_FONT, size=10.5, color="black")))
shapes.append(dict(type="path", xref=OX, yref=OY,
                   path="M 788.3,133.3 L 821.7,126 L 821.7,139.3 Z", fillcolor=C_BLUE_W, line=dict(width=0)))
shapes.append(dict(type="path", xref=OX, yref=OY,
                   path="M 788.3,140 L 788.3,152.7 L 821.7,146.7 Z", fillcolor=C_RED_W, line=dict(width=0)))
for txt, yy in zip(WEDGE_LABELS, [132.5, 146.5]):
    annotations.append(dict(xref=OX, yref=OY, x=834, y=yy, text="<b>%s</b>" % txt,
                            showarrow=False, xanchor="left", yanchor="middle",
                            font=dict(family=LABEL_FONT, size=10.5, color="black")))

# axis titles
annotations.append(dict(xref=OX, yref=OY, x=22, y=211, textangle=-90,
                        text="<b>-log<sub>10</sub>(P)</b>", showarrow=False,
                        font=dict(family=LABEL_FONT, size=23, color="black")))
annotations.append(dict(xref=OX, yref=OY, x=427, y=465,
                        text="<b>log<sub>2</sub>(FC)</b>", showarrow=False,
                        font=dict(family=LABEL_FONT, size=23, color="black")))

layout["shapes"] = shapes
layout["annotations"] = annotations
fig.update_layout(**layout)
fig.write_html("out.html", config={"displayModeBar": False},
               post_script="document.body.style.margin='0';document.body.style.padding='0';")
